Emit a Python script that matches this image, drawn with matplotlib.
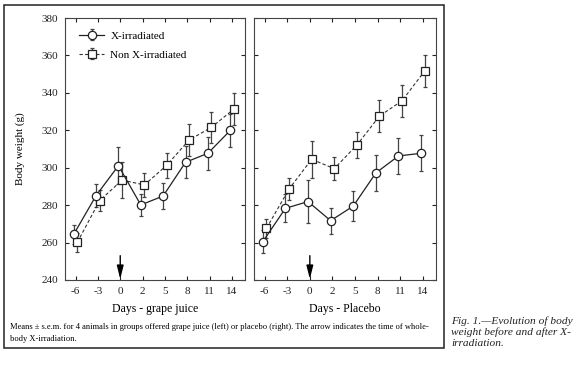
import matplotlib.pyplot as plt
from matplotlib.patches import Rectangle

plt.rcParams['font.family'] = ['Liberation Serif', 'DejaVu Serif']

# days after irradiation (categorical positions on the x axis)
days = ['-6', '-3', '0', '2', '5', '8', '11', '14']

# grape juice group
juice_xray = [264.4, 285.1, 301.1, 280.1, 284.9, 302.9, 307.7, 319.9]
juice_xray_err = [5.0, 6.0, 10.0, 5.8, 7.0, 8.5, 8.7, 8.7]
juice_ctrl = [260.1, 282.4, 293.4, 290.8, 301.3, 314.8, 321.6, 331.3]
juice_ctrl_err = [5.0, 5.5, 9.5, 6.3, 6.8, 8.4, 8.3, 8.4]

# placebo group
plac_xray = [260.5, 278.3, 281.9, 271.7, 279.5, 297.2, 306.3, 307.7]
plac_xray_err = [6.0, 7.5, 11.5, 7.0, 8.0, 9.5, 9.5, 9.7]
plac_ctrl = [267.6, 288.6, 304.5, 299.5, 312.1, 327.6, 335.8, 351.7]
plac_ctrl_err = [5.0, 5.8, 10.0, 6.0, 7.0, 8.5, 8.5, 8.5]

caption_lines = ['Fig. 1.\u2014Evolution of body', 'weight before and after X-',
                 'irradiation.']

W, H = 581, 374
fig = plt.figure(figsize=(W / 100, H / 100), dpi=100)

# outer frame round the figure part
fig.patches.append(Rectangle((4 / W, 1 - 348 / H), 440 / W, 343 / H,
                             transform=fig.transFigure, fill=False,
                             edgecolor='#222222', lw=1.1))

ax1 = fig.add_axes([65 / W, 1 - 280 / H, 180 / W, 262 / H])
ax2 = fig.add_axes([254 / W, 1 - 280 / H, 182 / W, 262 / H])

idx = list(range(len(days)))
xc = [i - 0.08 for i in idx]
xs = [i + 0.08 for i in idx]


def draw_panel(ax, xray, xray_err, ctrl, ctrl_err, xlabel):
    ax.errorbar(xs, ctrl, yerr=ctrl_err, color='#333333', lw=0.8,
                linestyle=(0, (3, 2)), marker='s', markersize=5.5,
                markerfacecolor='white', markeredgecolor='#222222',
                markeredgewidth=0.9, ecolor='#444444', elinewidth=0.9,
                capsize=1.6, capthick=0.9, label='Non X-irradiated')
    ax.errorbar(xc, xray, yerr=xray_err, color='#222222', lw=0.9,
                linestyle='-', marker='o', markersize=6,
                markerfacecolor='white', markeredgecolor='#222222',
                markeredgewidth=0.9, ecolor='#444444', elinewidth=0.9,
                capsize=1.6, capthick=0.9, label='X-irradiated')
    ax.set_xlim(-0.47, 7.58)
    ax.set_ylim(240, 380)
    ax.set_yticks(range(240, 381, 20))
    ax.set_xticks(idx)
    ax.set_xticklabels(days)
    ax.tick_params(direction='in', length=3, width=0.8, top=True, right=True,
                   labelsize=8, pad=5, colors='#222222')
    for s in ax.spines.values():
        s.set_linewidth(0.8)
        s.set_color('#444444')
    ax.set_xlabel(xlabel, fontsize=8.5, labelpad=5)
    # arrow marking the time of irradiation (day 0)
    ax.annotate('', xy=(2, 240.5), xytext=(2, 253),
                arrowprops=dict(arrowstyle='-|>,head_width=0.2,head_length=0.8',
                                color='black', lw=1.0, shrinkA=0, shrinkB=0))


draw_panel(ax1, juice_xray, juice_xray_err, juice_ctrl, juice_ctrl_err,
           'Days - grape juice')
draw_panel(ax2, plac_xray, plac_xray_err, plac_ctrl, plac_ctrl_err,
           'Days - Placebo')
ax2.tick_params(labelleft=False)
ax1.set_ylabel('Body weight (g)', fontsize=8, labelpad=12)

h, l = ax1.get_legend_handles_labels()
ax1.legend(h[::-1], l[::-1], loc='upper left', frameon=False, fontsize=8,
           handlelength=2.2, handletextpad=0.6, labelspacing=0.85,
           borderaxespad=0.4, bbox_to_anchor=(0.03, 0.985))

fig.text(10 / W, 1 - 327 / H,
         'Means \u00b1 s.e.m. for 4 animals in groups offered grape juice (left) or '
         'placebo (right). The arrow indicates the time of whole-',
         fontsize=6.1, va='center', ha='left')
fig.text(10 / W, 1 - 339 / H, 'body X-irradiation.', fontsize=6.1,
         va='center', ha='left')

for k, line in enumerate(caption_lines):
    fig.text(451 / W, 1 - (321.5 + 11 * k) / H, line, fontsize=8.2,
             style='italic', va='center', ha='left', color='#222222')

fig.savefig('out.png', dpi=100)
